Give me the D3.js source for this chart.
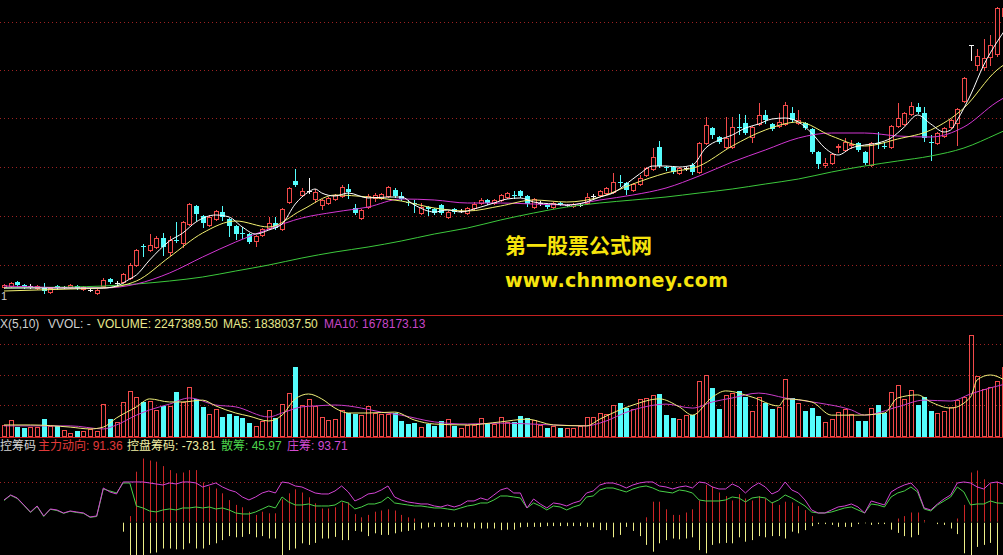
<!DOCTYPE html>
<html><head><meta charset="utf-8">
<script src="https://cdn.jsdelivr.net/npm/d3@7"></script>
<style>html,body{margin:0;padding:0;background:#000;overflow:hidden}</style>
</head><body>
<svg id="c" width="1003" height="555"></svg>
<script>
// ---------------- DATA ----------------
const open=[
4.3,4.4,4.8,4.5,4.4,4.2,4.2,3.8,4.4,4.3,
4.3,4.4,4.1,4.0,3.7,4.4,5.1,4.7,4.8,5.2,
6.5,8.4,8.0,8.3,9.2,7.8,9.0,8.7,10.6,12.4,
11.4,10.5,11.1,11.8,11.1,10.4,9.7,9.6,8.9,9.5,
10.2,10.7,10.1,12.8,14.9,13.5,13.9,13.1,12.5,12.7,
13.1,13.4,14.1,12.2,11.2,12.3,13.2,13.2,13.4,14.0,
13.4,12.8,12.7,11.7,12.3,12.1,12.5,11.3,12.1,11.9,
11.7,12.2,12.7,13.0,12.7,13.0,13.3,13.5,13.9,13.4,
12.3,12.7,12.5,12.3,12.7,12.5,12.4,12.5,12.7,13.4,
13.5,13.7,13.8,14.8,14.7,14.0,14.6,15.5,16.1,18.3,
16.3,16.3,15.7,16.2,16.5,15.8,18.7,20.2,19.3,18.3,
18.3,20.3,20.7,19.3,20.6,21.5,20.6,20.4,20.6,21.7,
20.7,20.7,20.1,17.8,16.5,16.7,18.3,18.0,18.5,18.7,
17.8,16.5,18.7,18.4,18.3,20.4,20.6,21.6,22.3,21.7,
18.8,18.7,19.4,20.3,20.7,22.9,28.5,26.5,26.3,27.3,
27.6,31.4];
const high=[
4.6,4.8,4.9,4.6,4.6,4.5,4.7,4.3,4.5,4.4,
4.6,4.5,4.4,4.1,4.1,5.2,5.2,4.9,5.7,6.7,
8.1,8.6,9.6,9.4,9.7,9.4,10.8,10.9,12.7,12.5,
11.5,11.5,12.0,12.4,11.2,10.5,10.3,9.7,9.5,10.2,
11.3,11.3,12.2,14.3,16.1,14.2,15.2,14.1,13.1,13.3,
13.6,14.5,14.6,12.6,12.1,13.6,13.7,13.7,14.4,14.2,
13.8,13.0,13.0,12.7,12.4,12.2,12.6,11.9,12.2,12.1,
12.3,12.8,13.2,13.1,13.1,13.6,13.8,13.9,14.0,13.5,
13.2,12.9,12.6,12.8,12.8,12.6,12.7,12.6,13.7,13.6,
14.0,14.3,15.7,15.5,14.8,14.7,15.5,16.3,18.2,18.9,
16.4,16.4,16.3,16.3,16.7,18.8,21.3,20.3,19.4,21.3,
21.3,21.6,21.5,20.4,22.7,22.0,20.7,21.7,22.8,22.3,
22.0,20.8,20.2,17.9,17.2,17.7,18.6,19.2,19.0,18.8,
17.9,18.8,19.8,18.8,20.5,22.7,21.8,22.8,22.7,22.3,
19.5,19.8,20.3,21.1,22.2,25.3,28.5,28.1,29.1,29.5,
32.3,32.6];
const low=[
4.2,4.3,4.4,4.2,4.2,4.1,3.7,3.7,4.1,4.2,
4.2,4.1,4.0,3.9,3.6,4.3,4.7,4.5,4.7,5.1,
6.4,7.4,7.9,8.2,7.5,7.5,8.8,8.3,10.5,11.0,
10.3,10.4,11.0,11.0,9.4,9.1,9.2,8.7,8.4,9.4,
10.1,10.1,10.0,12.7,14.4,13.4,13.7,12.8,12.1,12.6,
13.0,13.3,13.2,11.6,11.1,12.2,12.9,13.1,13.3,13.3,
13.0,12.5,11.8,11.6,11.5,11.6,11.6,11.2,11.7,11.8,
11.6,12.1,12.6,12.6,12.6,12.9,13.2,13.2,13.3,12.4,
12.2,12.5,12.2,12.2,12.5,12.4,12.3,12.4,12.6,13.1,
13.4,13.6,13.7,14.4,13.6,13.9,14.5,15.4,16.0,16.3,
16.0,15.7,15.6,16.0,15.6,15.7,18.6,19.2,18.7,18.2,
18.2,19.6,19.6,18.8,20.5,20.7,20.0,20.3,20.5,20.9,
20.6,20.1,17.7,16.2,16.3,16.6,17.8,17.9,18.2,17.9,
16.6,16.4,18.2,18.2,18.2,20.3,20.5,21.5,21.7,18.9,
17.0,18.6,19.3,20.2,18.5,22.8,27.0,26.0,26.0,26.5,
27.4,31.0];
const close=[
4.5,4.7,4.5,4.3,4.4,4.4,3.9,4.2,4.2,4.3,
4.5,4.2,4.3,4.0,4.0,5.0,4.8,4.7,5.6,6.5,
8.0,8.3,8.5,9.2,8.3,9.0,8.9,10.8,12.6,11.6,
10.7,11.3,11.9,11.3,10.4,9.6,9.6,8.8,9.4,10.1,
10.7,10.2,12.1,14.2,14.5,13.9,13.9,13.8,13.0,13.2,
13.5,14.3,13.8,11.7,12.0,13.4,13.5,13.6,14.3,13.4,
13.1,12.7,12.6,12.3,12.1,11.7,11.7,11.8,11.8,11.9,
12.2,12.6,13.0,12.7,13.0,13.5,13.7,13.4,13.4,12.6,
13.1,12.7,12.3,12.7,12.6,12.5,12.6,12.5,13.3,13.4,
13.9,14.2,14.8,14.7,14.0,14.6,15.2,16.2,17.3,16.4,
16.2,15.8,16.2,16.2,15.8,18.7,20.5,19.5,18.8,19.2,
20.3,20.2,19.7,20.3,21.5,21.0,20.1,20.8,22.5,21.0,
21.0,20.2,17.8,16.6,16.7,17.6,18.4,18.8,18.6,18.0,
16.7,18.7,18.6,18.3,20.4,21.2,21.7,22.4,21.8,19.2,
18.7,19.7,20.2,21.0,22.1,25.2,28.5,27.4,27.2,28.5,
32.2,32.2];

// price moving averages (sampled at candle indices)
const maIdx=[0,5,10,15,20,25,30,35,40,45,50,55,60,65,70,75,80,85,90,95,100,105,110,115,120,125,130,135,140,145,150,151];
const ma10=[3.9,4.0,4.1,4.2,4.9,7.3,9.7,10.9,10.3,12.0,13.5,13.3,12.9,12.2,11.9,12.4,13.0,12.8,13.3,14.6,15.7,16.4,18.4,20.0,20.8,19.4,18.4,19.1,20.0,22.2,26.0,26.5];
const ma20=[4.4,4.3,4.2,4.2,4.6,5.7,7.3,8.8,10.1,11.2,11.8,12.3,13.1,13.0,12.7,12.7,12.6,12.5,13.0,13.5,14.2,15.4,16.8,18.0,19.2,19.7,19.7,19.4,19.3,20.3,22.8,23.2];
const ma60=[4.2,4.25,4.3,4.4,4.6,4.9,5.3,5.9,6.5,7.2,7.8,8.3,8.9,9.6,10.2,11.0,11.7,12.3,12.7,13.0,13.3,13.7,14.1,14.6,15.1,15.8,16.4,16.9,17.4,18.2,19.6,19.9];
const ma5Idx=[0,5,10,15,17,19,20,22,25,27,29,32,34,36,38,40,42,44,46,47,48,50,52,55,58,60,62,65,67,69,71,74,76,78,80,83,85,88,90,92,94,96,98,100,102,104,106,108,110,112,114,116,118,120,122,124,126,128,130,132,134,136,138,140,142,143,144,146,148,150,151];
const ma5=[4.2,4.2,4.2,4.2,4.4,5.1,5.5,7.0,8.9,9.7,10.8,11.5,11.3,10.3,9.6,10.0,10.6,12.6,13.8,14.1,13.7,13.4,13.7,13.2,13.3,13.3,12.5,11.8,12.0,11.8,12.1,12.7,13.1,13.2,12.8,12.6,12.5,12.8,13.3,13.7,14.6,15.6,16.4,16.4,16.3,16.5,18.2,19.0,19.5,20.2,20.6,21.1,21.2,20.8,19.7,18.2,17.5,18.2,18.5,18.7,19.2,20.3,21.5,20.6,19.8,20.0,21.0,23.5,26.5,28.8,29.8];
const priceGrid=[30.8,26.0,21.2,16.3,11.4,6.5];

// volume (millions)
const volume=[
0.36,0.52,0.30,0.25,0.30,0.30,0.55,0.33,0.33,0.20,
0.11,0.16,0.17,0.22,0.16,1.03,0.55,0.47,1.10,1.47,
1.26,1.12,1.14,0.85,0.98,0.98,1.43,1.12,1.59,1.21,
0.96,0.71,0.87,0.61,0.72,0.65,0.58,0.43,0.33,0.50,
0.85,0.58,1.03,1.39,2.24,1.01,1.21,0.98,0.61,0.52,
0.55,0.85,0.76,0.71,0.68,0.98,0.74,0.72,0.71,0.74,
0.50,0.38,0.43,0.30,0.39,0.33,0.50,0.55,0.33,0.27,
0.36,0.36,0.58,0.41,0.39,0.61,0.47,0.47,0.65,0.58,
0.52,0.36,0.27,0.33,0.27,0.27,0.27,0.33,0.61,0.61,
0.74,0.71,1.00,1.09,0.90,0.87,1.20,1.23,1.34,1.37,
0.68,0.58,0.54,0.68,0.68,1.79,1.98,1.56,0.87,1.34,
1.41,1.47,1.26,0.82,1.26,1.09,0.87,0.94,1.85,1.23,
1.09,0.82,0.90,0.65,0.46,0.54,0.77,0.87,0.72,0.49,
0.49,0.90,1.01,0.76,1.45,1.66,1.20,1.50,1.01,1.26,
0.83,0.74,0.83,0.96,1.17,1.26,3.29,1.96,1.52,1.61,
1.79,2.2474];
const volMa5Idx=[0,4,10,13,15,17,20,22,25,27,30,32,35,37,40,42,44,46,48,50,52,55,59,62,65,70,75,79,83,88,90,95,99,102,104,107,109,113,117,118,122,125,129,133,135,138,140,143,146,147,149,151];
const volMa5=[0.36,0.36,0.29,0.23,0.29,0.59,0.95,1.21,1.11,1.11,1.17,0.98,0.75,0.65,0.49,0.68,1.21,1.37,1.21,0.91,0.75,0.75,0.78,0.52,0.39,0.36,0.46,0.55,0.36,0.33,0.55,1.01,1.21,0.95,0.68,1.27,1.47,1.27,0.98,1.21,1.11,0.68,0.68,0.75,1.24,1.34,1.11,0.91,1.27,1.83,1.99,1.84];
const volMa10Idx=[0,10,15,17,20,22,25,28,32,35,40,42,45,47,50,52,54,57,60,65,70,75,83,88,90,95,100,104,107,110,114,118,123,128,130,135,139,143,146,149,151];
const volMa10=[0.33,0.33,0.23,0.36,0.68,0.85,1.04,1.24,1.01,0.95,0.62,0.75,0.95,0.98,1.01,0.98,0.91,0.78,0.68,0.46,0.39,0.42,0.36,0.33,0.42,0.85,1.04,0.91,1.11,1.24,1.40,1.24,1.08,0.85,0.68,0.95,1.17,1.14,1.37,1.57,1.68];
const volGrid=[1,2,3];

// indicator 主力控筹码
const zhuang=[
54.3,66.8,59.3,41.8,24.3,39.3,14.3,31.8,29.3,21.8,
26.8,24.3,21.8,11.8,14.3,84.3,74.3,69.3,99.3,99.3,
99.3,99.3,96.8,94.3,91.8,96.8,94.3,99.3,99.3,96.8,
86.8,91.8,96.8,86.8,79.3,74.3,61.8,54.3,61.8,71.8,
76.8,71.8,99.3,96.8,89.3,86.8,79.3,71.8,69.3,69.3,
76.8,89.3,74.3,51.8,59.3,69.3,71.8,79.3,89.3,61.8,
54.3,49.3,46.8,44.3,44.3,39.3,36.8,41.8,36.8,41.8,
51.8,51.8,59.3,54.3,66.8,79.3,84.3,71.8,71.8,34.3,
56.8,44.3,34.3,46.8,44.3,39.3,46.8,51.8,71.8,76.8,
91.8,96.8,96.8,91.8,84.3,91.8,96.8,99.3,99.3,89.3,
86.8,81.8,86.8,89.3,84.3,99.3,96.8,86.8,81.8,81.8,
94.3,86.8,71.8,86.8,96.8,86.8,69.3,76.8,99.3,79.3,
71.8,54.3,29.3,21.8,21.8,29.3,36.8,39.3,44.3,36.8,
21.8,51.8,46.8,41.8,74.3,84.3,91.8,96.8,79.3,34.3,
29.3,44.3,56.8,66.8,96.8,99.3,96.8,86.8,81.8,96.8,
99.3,93.71];
const san=[
53,66,58,41,23,38,13,31,28,21,
26,23,21,11,13,81.8,76.8,71.8,96.8,96.8,
39.3,34.3,26.8,24.3,29.3,31.8,29.3,34.3,34.3,36.8,
34.3,36.8,31.8,34.3,29.3,21.8,19.3,19.3,24.3,31.8,
39.3,34.3,61.8,49.3,41.8,41.8,44.3,39.3,39.3,39.3,
41.8,51.8,46.8,31.8,36.8,44.3,44.3,49.3,61.8,46.8,
44.3,41.8,39.3,39.3,36.8,34.3,34.3,31.8,29.3,34.3,
39.3,41.8,46.8,46.8,54.3,64.3,64.3,61.8,59.3,34.3,
46.8,39.3,29.3,39.3,36.8,29.3,36.8,41.8,61.8,64.3,
79.3,84.3,84.3,79.3,74.3,81.8,86.8,89.3,84.3,76.8,
74.3,71.8,79.3,76.8,71.8,54.3,51.8,51.8,51.8,54.3,
61.8,59.3,49.3,59.3,61.8,59.3,46.8,54.3,66.8,59.3,
49.3,39.3,24.3,21.8,21.8,24.3,29.3,34.3,36.8,29.3,
21.8,44.3,41.8,36.8,61.8,71.8,76.8,86.8,74.3,31.8,
26.8,41.8,51.8,61.8,86.8,74.3,41.8,44.3,44.3,51.8,
46.8,45.97];
const zhuli=[
0,0,0,0,0,0,0,0,0,0,
0,0,0,0,0,0,0,0,0,14,
125,158,153,150,139,129,121,123,129,129,
98,88,83,71,54,42,36,25,17,25,
21,21,56,71,81,73,61,46,33,33,
36,48,48,19,11,17,25,28,31,28,
17,11,8,0,0,0,0,0,0,0,
0,0,0,0,0,0,0,0,0,0,
0,0,0,0,0,0,0,0,0,0,
0,0,0,0,0,0,0,11,50,50,
31,17,17,23,31,53,92,88,73,64,
53,69,58,53,64,58,48,42,50,48,
39,29,14,0,0,0,0,0,0,0,
0,0,0,0,0,8,14,23,23,4,
0,0,0,0,8,42,123,128,106,96,
100,91.36];
const kongpan=[
0,0,0,0,0,0,0,0,0,0,
0,0,0,0,0,0,0,0,-25,-95,
-100,-92,-79,-77,-67,-67,-69,-69,-54,-67,
-67,-58,-54,-46,-36,-39,-38,-31,-39,-36,
-42,-42,-98,-71,-67,-54,-58,-53,-42,-42,
-38,-46,-46,-23,-25,-36,-29,-33,-33,-29,
-25,-23,-21,-17,-14,-13,-13,-13,-13,-13,
-14,-17,-17,-17,-17,-21,-20,-20,-14,-13,
-13,-13,-11,-11,-11,-11,-11,-11,-13,-14,
-21,-21,-39,-33,-13,-23,-36,-58,-75,-54,
-46,-42,-44,-42,-39,-71,-79,-58,-54,-53,
-54,-39,-50,-46,-36,-39,-36,-36,-42,-25,
-29,-21,-11,-6,-6,-8,-13,-13,-13,-6,
-4,-8,-6,-6,-20,-28,-36,-39,-33,-3,
0,-6,-8,-17,-31,-79,-95,-63,-58,-53,
-90,-73.81];
const indGrid=[100];

// ---------------- DRAWING ----------------
const W=1003,H=555;
const N=Math.min(open.length,high.length,low.length,close.length);
const svg=d3.select('#c');
svg.append('rect').attr('width',W).attr('height',H).attr('fill','#000');
const defs=svg.append('defs');
defs.append('clipPath').attr('id','cMain').append('rect').attr('x',0).attr('y',0).attr('width',W).attr('height',315);
defs.append('clipPath').attr('id','cInd').append('rect').attr('x',0).attr('y',453).attr('width',W).attr('height',102);

const x=d3.scaleLinear().domain([0,151]).range([4,4+151*6.62]);
const yP=d3.scaleLinear().domain([1.5,33]).range([315,0]);
const yV=d3.scaleLinear().domain([0,3]).range([436,344]);
const yI=d3.scaleLinear().domain([0,100]).range([521.7,481.7]);

const RED='#f24a4a',CYAN='#54fcfc',WHITE='#f4f4f4';
const GRID='#9c2222';
const cx=i=>Math.round(x(i));
const kind=i=>close[i]>open[i]?'up':(close[i]<open[i]?'down':'flat');
const col=i=>({up:RED,down:CYAN,flat:WHITE})[kind(i)];

// grids
const gg=svg.append('g').attr('stroke',GRID).attr('stroke-dasharray','1,3').attr('stroke-width',1);
gg.selectAll('line.pg').data(priceGrid).join('line').attr('class','pg')
  .attr('x1',0).attr('x2',W).attr('y1',d=>Math.round(yP(d))+0.5).attr('y2',d=>Math.round(yP(d))+0.5);
gg.selectAll('line.vg').data(volGrid).join('line').attr('class','vg')
  .attr('x1',0).attr('x2',W).attr('y1',d=>Math.round(yV(d))+0.5).attr('y2',d=>Math.round(yV(d))+0.5);
gg.selectAll('line.ig').data(indGrid).join('line').attr('class','ig')
  .attr('x1',0).attr('x2',W).attr('y1',d=>Math.round(yI(d))+0.5).attr('y2',d=>Math.round(yI(d))+0.5);

// separators
svg.append('line').attr('x1',0).attr('x2',W).attr('y1',315.5).attr('y2',315.5).attr('stroke','#c42020');
svg.append('line').attr('x1',0).attr('x2',W).attr('y1',437.5).attr('y2',437.5).attr('stroke','#c42020');

const idx=d3.range(N);
const gm=svg.append('g').attr('clip-path','url(#cMain)');

const candles=gm.append('g');
candles.selectAll('line.wick').data(idx).join('line').attr('class','wick')
  .attr('x1',i=>cx(i)+0.5).attr('x2',i=>cx(i)+0.5)
  .attr('y1',i=>Math.round(yP(high[i]))).attr('y2',i=>Math.round(yP(low[i]))+1)
  .attr('stroke',col).attr('stroke-width',1);
const up=idx.filter(i=>kind(i)==='up'), dn=idx.filter(i=>kind(i)==='down'), fl=idx.filter(i=>kind(i)==='flat');
candles.selectAll('rect.up').data(up).join('rect').attr('class','up')
  .attr('x',i=>cx(i)-1.5).attr('width',4)
  .attr('y',i=>Math.round(yP(close[i]))+0.5)
  .attr('height',i=>Math.max(1,Math.round(yP(open[i]))-Math.round(yP(close[i]))))
  .attr('fill','#000').attr('stroke',RED).attr('stroke-width',1);
candles.selectAll('rect.dn').data(dn).join('rect').attr('class','dn')
  .attr('x',i=>cx(i)-2).attr('width',5)
  .attr('y',i=>Math.round(yP(open[i])))
  .attr('height',i=>Math.max(1,Math.round(yP(close[i]))-Math.round(yP(open[i]))))
  .attr('fill',CYAN);
candles.selectAll('line.fl').data(fl).join('line').attr('class','fl')
  .attr('x1',i=>cx(i)-2).attr('x2',i=>cx(i)+3)
  .attr('y1',i=>Math.round(yP(close[i]))+0.5).attr('y2',i=>Math.round(yP(close[i]))+0.5)
  .attr('stroke',WHITE);

const lineP=d3.line().x(d=>x(d[0])).y(d=>yP(d[1])).curve(d3.curveMonotoneX);
const maSeries=[
  {idx:maIdx,v:ma60,c:'#3cc83c'},
  {idx:maIdx,v:ma20,c:'#d236d2'},
  {idx:maIdx,v:ma10,c:'#f2f070'},
  {idx:ma5Idx,v:ma5,c:'#ffffff'}];
gm.selectAll('path.ma').data(maSeries).join('path').attr('class','ma')
  .attr('d',s=>lineP(s.idx.map((k,j)=>[k,s.v[j]])))
  .attr('fill','none').attr('stroke',s=>s.c).attr('stroke-width',1);

// volume bars
const gv=svg.append('g');
const volKind=i=>close[i]>=open[i]?'up':'down';
const vUp=idx.filter(i=>volKind(i)==='up'), vDn=idx.filter(i=>volKind(i)==='down');
gv.selectAll('rect.vu').data(vUp).join('rect').attr('class','vu')
  .attr('x',i=>cx(i)-1.5).attr('width',4)
  .attr('y',i=>Math.round(yV(volume[i]))+0.5)
  .attr('height',i=>Math.max(1,437-Math.round(yV(volume[i]))-1))
  .attr('fill','none').attr('stroke',RED);
gv.selectAll('rect.vd').data(vDn).join('rect').attr('class','vd')
  .attr('x',i=>cx(i)-2).attr('width',5)
  .attr('y',i=>Math.round(yV(volume[i])))
  .attr('height',i=>Math.max(1,437-Math.round(yV(volume[i]))))
  .attr('fill',CYAN);
const lineV=d3.line().x(d=>x(d[0])).y(d=>yV(d[1])).curve(d3.curveMonotoneX);
gv.append('path').attr('d',lineV(volMa10Idx.map((k,j)=>[k,volMa10[j]]))).attr('fill','none').attr('stroke','#c83cc8');
gv.append('path').attr('d',lineV(volMa5Idx.map((k,j)=>[k,volMa5[j]]))).attr('fill','none').attr('stroke','#f0f07a');

// indicator
const gi=svg.append('g').attr('clip-path','url(#cInd)');
gi.selectAll('line.zl').data(idx.filter(i=>zhuli[i]>0)).join('line').attr('class','zl')
  .attr('x1',i=>cx(i)+0.5).attr('x2',i=>cx(i)+0.5)
  .attr('y1',yI(0)).attr('y2',i=>yI(zhuli[i])).attr('stroke','#cc2626');
gi.selectAll('line.kp').data(idx.filter(i=>kongpan[i]<0)).join('line').attr('class','kp')
  .attr('x1',i=>cx(i)+0.5).attr('x2',i=>cx(i)+0.5)
  .attr('y1',yI(0)+1).attr('y2',i=>yI(kongpan[i])).attr('stroke','#eeee88');
const lineI=d3.line().x((d,i)=>x(i)).y(d=>yI(d));
gi.append('path').attr('d',lineI(san)).attr('fill','none').attr('stroke','#48d048');
gi.append('path').attr('d',lineI(zhuang)).attr('fill','none').attr('stroke','#d444d4');

// texts
const LAT='"Liberation Sans", Arial, "Noto Sans CJK SC", sans-serif';
const vh=svg.append('g').attr('font-family',LAT).attr('font-size',12);
const volHeader=[
  {t:'X(5,10)',x:0,c:'#cfcfcf'},
  {t:'VVOL: -',x:48,c:'#cfcfcf'},
  {t:'VOLUME: 2247389.50',x:97,c:'#e8e88c'},
  {t:'MA5: 1838037.50',x:223,c:'#e8e88c'},
  {t:'MA10: 1678173.13',x:324,c:'#c846c8'}];
vh.selectAll('text').data(volHeader).join('text').attr('x',d=>d.x).attr('y',328).attr('fill',d=>d.c).text(d=>d.t);
const indHeader=[
  {t:'控筹码',x:0,c:'#d4d4d4'},
  {t:'主力动向: 91.36',x:38,c:'#e23a3a'},
  {t:'控盘筹码: -73.81',x:127,c:'#f0f0a4'},
  {t:'散筹: 45.97',x:221,c:'#4cd44c'},
  {t:'庄筹: 93.71',x:287,c:'#d24cd2'}];
vh.selectAll('text.ih').data(indHeader).join('text').attr('class','ih').attr('x',d=>d.x).attr('y',449.5).attr('fill',d=>d.c).text(d=>d.t);
svg.append('text').attr('x',1).attr('y',299.5).attr('font-family',LAT).attr('font-size',11).attr('fill','#cfcfcf').text('1');

svg.append('text').attr('x',505).attr('y',253).attr('font-family','"Noto Sans CJK SC", sans-serif')
  .attr('font-weight',700).attr('font-size',21).attr('fill','#f6e40c').text('第一股票公式网');
svg.append('text').attr('x',505).attr('y',287).attr('font-family','"DejaVu Sans", Verdana, sans-serif')
  .attr('font-weight',700).attr('font-size',19).attr('textLength',223).attr('fill','#f6e40c').text('www.chnmoney.com');
</script>
</body></html>
